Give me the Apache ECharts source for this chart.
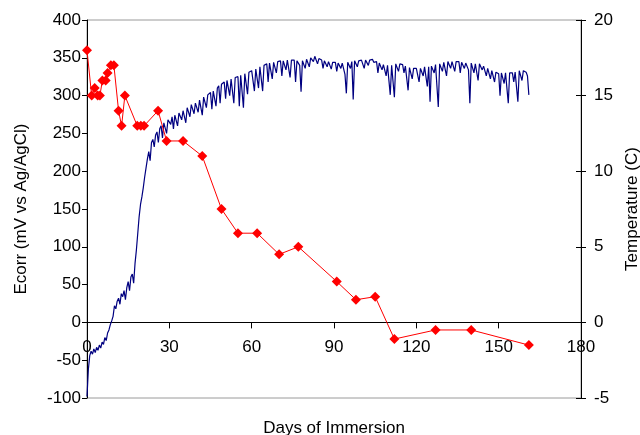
<!DOCTYPE html>
<html>
<head>
<meta charset="utf-8">
<script src="https://cdn.jsdelivr.net/npm/echarts@6/dist/echarts.min.js"></script>
<style>
  html, body { margin: 0; padding: 0; background: #fff; }
  #chart { width: 640px; height: 435px; }
</style>
</head>
<body>
<div id="chart"></div>
<script>
// x axis ticks (days)
const dayTicks = [0, 30, 60, 90, 120, 150, 180]

// Ecorr readings, one every half day from day 0
const ecorrStep = 0.5
const ecorrValues = [
  -98, -62, -44, -38, -42, -35, -40, -33, -37, -30,
  -34, -26, -29, -20, -24, -14, -10, -3, 2, 8,
  22, 18, 28, 32, 24, 38, 34, 42, 30, 46,
  54, 42, 60, 64, 52, 78, 96, 118, 140, 156,
  166, 178, 192, 204, 216, 226, 214, 238, 242, 232,
  248, 252, 238, 256, 260, 244, 264, 266, 250, 268,
  270, 262, 272, 256, 274, 275, 260, 277, 279, 268,
  280, 282, 264, 284, 286, 272, 288, 289, 276, 290,
  292, 278, 294, 296, 274, 298, 299, 284, 301, 302,
  304, 282, 306, 308, 286, 310, 313, 290, 315, 317,
  318, 296, 320, 321, 300, 322, 323, 290, 324, 326,
  325, 286, 327, 328, 284, 329, 330, 302, 331, 332,
  333, 334, 306, 335, 337, 310, 338, 339, 306, 340,
  341, 342, 318, 343, 344, 322, 344, 345, 330, 345,
  345, 346, 326, 346, 347, 334, 347, 346, 324, 347,
  346, 347, 318, 346, 347, 340, 305, 346, 347, 336,
  348, 349, 338, 350, 351, 345, 352, 351, 342, 349,
  348, 347, 336, 346, 345, 338, 345, 344, 335, 344,
  343, 344, 332, 343, 342, 336, 343, 344, 328, 303,
  344, 345, 336, 345, 295, 346, 345, 338, 346, 347,
  347, 346, 336, 347, 348, 340, 347, 346, 348, 344,
  346, 345, 330, 343, 342, 334, 341, 340, 326, 340,
  339, 301, 340, 341, 298, 342, 341, 332, 342, 340,
  341, 330, 339, 338, 307, 337, 336, 322, 336, 335,
  336, 337, 318, 336, 337, 326, 338, 337, 312, 338,
  292, 339, 340, 330, 341, 342, 285, 342, 343, 332,
  344, 343, 326, 345, 344, 336, 345, 344, 332, 345,
  344, 345, 330, 344, 343, 336, 343, 342, 334, 290,
  343, 342, 330, 342, 341, 320, 342, 340, 334, 339,
  338, 326, 336, 334, 322, 333, 332, 318, 331, 330,
  329, 300, 330, 329, 316, 330, 329, 290, 330, 331,
  330, 318, 331, 332, 292, 333, 332, 320, 333, 332,
  331, 326, 301
]

// Temperature readings
const tempDays = [0, 1.7, 2.8, 3.9, 4.7, 5.6, 6.8, 7.5, 8.7, 9.8, 11.5, 12.6, 13.8,
  18.3, 19.6, 20.8, 25.9, 29, 35, 42, 49, 55, 62, 70, 77, 91, 98, 105, 112, 127, 140, 161]
const tempValues = [18, 15, 15.5, 15, 15, 16, 16, 16.5, 17, 17, 14, 13, 15,
  13, 13, 13, 14, 12, 12, 11, 7.5, 5.9, 5.9, 4.5, 5, 2.7, 1.5, 1.7, -1.1, -0.5, -0.5, -1.5]

const font = 'Liberation Sans, Arial, sans-serif'
const fs = 17

const ecorrData = ecorrValues.map((v, i) => [i * ecorrStep, v])
const tempData = tempValues.map((v, i) => [tempDays[i], v])

const chart = echarts.init(document.getElementById('chart'), null, { renderer: 'canvas' })

const option = {
  animation: false,
  backgroundColor: '#fff',
  textStyle: { fontFamily: font },
  grid: [
    {
      left: 87, right: 59, top: 20, bottom: 37,
      outerBoundsMode: 'none',
      show: true, borderColor: '#9a9a9a', borderWidth: 1
    },
    {
      // upper part down to the zero line, only used to place the day labels
      left: 87, right: 59, top: 20, bottom: 113,
      outerBoundsMode: 'none'
    }
  ],
  xAxis: [
    {
      type: 'value',
      gridIndex: 0,
      min: 0, max: 180, interval: 30,
      name: 'Days of Immersion',
      nameLocation: 'middle',
      nameGap: 22,
      nameTextStyle: { fontSize: fs, color: '#000', fontFamily: font },
      axisLine: { onZero: true, onZeroAxisIndex: 0, lineStyle: { color: '#000', width: 1 } },
      axisTick: { length: 6, lineStyle: { color: '#000' } },
      axisLabel: { show: false },
      splitLine: { show: false }
    },
    {
      type: 'value',
      gridIndex: 1,
      min: 0, max: 180, interval: 30,
      axisLine: { show: false, onZero: false },
      axisTick: { show: false },
      axisLabel: { fontSize: fs, color: '#000', margin: 17, fontFamily: font,
        customValues: dayTicks },
      splitLine: { show: false }
    }
  ],
  yAxis: [
    {
      type: 'value',
      gridIndex: 0,
      min: -100, max: 400, interval: 50,
      name: 'Ecorr (mV vs Ag/AgCl)',
      nameLocation: 'middle',
      nameGap: 57,
      nameTextStyle: { fontSize: fs, color: '#000', fontFamily: font },
      axisLine: { show: true, onZero: false, lineStyle: { color: '#000' } },
      axisTick: { show: true, length: 5, lineStyle: { color: '#000' } },
      axisLabel: { fontSize: fs, color: '#000', margin: 6, fontFamily: font },
      splitLine: { show: false }
    },
    {
      type: 'value',
      gridIndex: 0,
      position: 'right',
      min: -5, max: 20, interval: 5,
      name: 'Temperature (C)',
      nameLocation: 'middle',
      nameGap: 42,
      nameRotate: 90,
      nameTextStyle: { fontSize: fs, color: '#000', fontFamily: font },
      axisLine: { show: true, onZero: false, lineStyle: { color: '#000' } },
      axisTick: { show: true, length: 5, lineStyle: { color: '#000' } },
      axisLabel: { fontSize: fs, color: '#000', margin: 13, fontFamily: font },
      splitLine: { show: false }
    },
    {
      // inner half of the cross ticks on the right axis
      type: 'value',
      gridIndex: 0,
      position: 'right',
      min: -5, max: 20, interval: 5,
      axisLine: { show: false, onZero: false },
      axisTick: { show: true, inside: true, length: 5, lineStyle: { color: '#000' } },
      axisLabel: { show: false },
      splitLine: { show: false }
    },
    {
      type: 'value',
      gridIndex: 1,
      min: 0, max: 400,
      show: false
    }
  ],
  series: [
    {
      name: 'Ecorr',
      type: 'line',
      xAxisIndex: 0,
      yAxisIndex: 0,
      data: ecorrData,
      showSymbol: false,
      sampling: 'none',
      lineStyle: { color: '#000080', width: 1.2 },
      itemStyle: { color: '#000080' },
      z: 2
    },
    {
      name: 'Temperature',
      type: 'line',
      xAxisIndex: 0,
      yAxisIndex: 1,
      data: tempData,
      symbol: 'diamond',
      symbolSize: 10,
      lineStyle: { color: '#ff0000', width: 1 },
      itemStyle: { color: '#ff0000' },
      z: 3
    }
  ]
}

chart.setOption(option)
</script>
</body>
</html>
